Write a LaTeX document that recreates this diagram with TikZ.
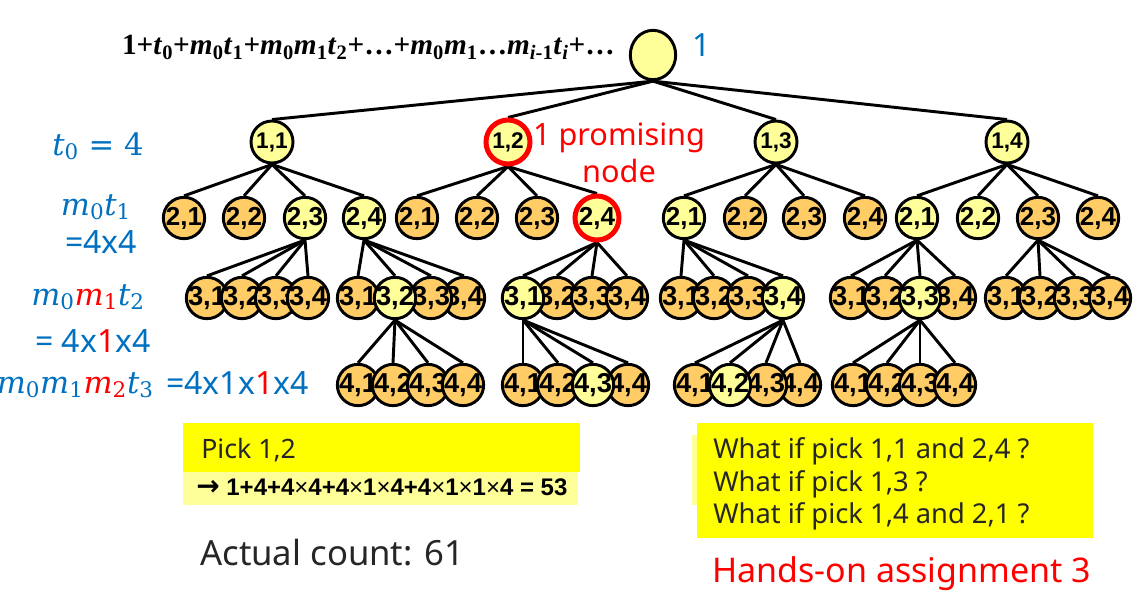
\documentclass[tikz,border=0pt]{standalone}
\usepackage{fontspec}
\setmainfont{Noto Sans}
\newfontfamily\nf{Liberation Sans}
\newfontfamily\frmfont{Liberation Serif}
\newfontfamily\arrfont{DejaVu Sans}
\newfontfamily\dvs{DejaVu Serif}
\usetikzlibrary{shapes.geometric,backgrounds}
\definecolor{nodey}{HTML}{FFFF99}
\definecolor{nodeo}{HTML}{FFCC66}
\definecolor{mblue}{HTML}{0070C0}
\definecolor{mred}{HTML}{FF0000}
\definecolor{boxy}{HTML}{FFFF00}
\definecolor{boxl}{HTML}{FFFF99}
\definecolor{txt}{HTML}{262626}
\newcommand\fv[2]{\textit{#1}\textsubscript{#2}}
\tikzset{
  base/.style={circle, draw=black, line width=2.2pt, inner sep=0pt, text=black,
    execute at begin node={\hbox to 0pt\bgroup\hss}, execute at end node={\hss\egroup}},
  lone/.style={base, minimum size=31.5pt, font=\nf\bfseries\fontsize{17}{17}\selectfont},
  ltwo/.style={base, minimum size=31pt, font=\nf\bfseries\fontsize{19.5}{19.5}\selectfont},
  lthree/.style={base, minimum size=31pt, font=\nf\bfseries\fontsize{20.5}{20.5}\selectfont},
  yf/.style={fill=nodey},
  of/.style={fill=nodeo},
  prom/.style={draw=mred, line width=3.75pt, minimum size=33pt},
  edge/.style={line width=2.2pt, black},
  bluelbl/.style={text=mblue, inner sep=0pt, font=\fontsize{24}{24}\selectfont},
  mathlbl/.style={text=mblue, inner sep=0pt, font=\dvs\fontsize{23}{23}\selectfont},
  plain/.style={inner sep=0pt}
}
\begin{document}
\begin{tikzpicture}[x=0.75pt,y=-0.75pt]
\useasboundingbox (0,0) rectangle (1139,592);
% root
\node[ellipse, draw=black, line width=2.2pt, fill=nodey, minimum width=34pt, minimum height=37pt, inner sep=0pt] (r) at (653,55) {};
% level 1
\node[lone,yf] (a1) at (272,142) {1,1};
\node[lone,yf,prom] (a2) at (508,142) {1,2};
\node[lone,yf] (a3) at (776,142) {1,3};
\node[lone,yf] (a4) at (1007,142) {1,4};
% level 2
\node[ltwo,of] (b11) at (184,218) {2,1};
\node[ltwo,of] (b12) at (244,218) {2,2};
\node[ltwo,yf] (b13) at (305,218) {2,3};
\node[ltwo,yf] (b14) at (364,218) {2,4};
\node[ltwo,of] (b21) at (417,218) {2,1};
\node[ltwo,of] (b22) at (477,218) {2,2};
\node[ltwo,of] (b23) at (537,218) {2,3};
\node[ltwo,yf,prom] (b24) at (597,218) {2,4};
\node[ltwo,yf] (b31) at (684,218) {2,1};
\node[ltwo,of] (b32) at (745,218) {2,2};
\node[ltwo,of] (b33) at (804,218) {2,3};
\node[ltwo,of] (b34) at (865,218) {2,4};
\node[ltwo,yf] (b41) at (917,218) {2,1};
\node[ltwo,yf] (b42) at (978,218) {2,2};
\node[ltwo,of] (b43) at (1038,218) {2,3};
\node[ltwo,of] (b44) at (1098,218) {2,4};
% level 3 group A (under b13)
\node[lthree,of] (A1) at (207,298) {3,1};
\node[lthree,of] (A2) at (242,298) {3,2};
\node[lthree,of] (A3) at (276,298) {3,3};
\node[lthree,of] (A4) at (308,298) {3,4};
% group B (under b14)
\node[lthree,of] (B4) at (464,298) {3,4};
\node[lthree,of] (B3) at (431,298) {3,3};
\node[lthree,of] (B1) at (358,298) {3,1};
\node[lthree,yf] (B2) at (395,298) {3,2};
% group C (under b24)
\node[lthree,of] (C2) at (557,298) {3,2};
\node[lthree,of] (C3) at (592,298) {3,3};
\node[lthree,of] (C4) at (627,298) {3,4};
\node[lthree,yf] (C1) at (523,298) {3,1};
% group D (under b31)
\node[lthree,of] (D1) at (681,298) {3,1};
\node[lthree,of] (D2) at (714,298) {3,2};
\node[lthree,of] (D3) at (748,298) {3,3};
\node[lthree,yf] (D4) at (783,298) {3,4};
% group E (under b41)
\node[lthree,of] (E1) at (851,298) {3,1};
\node[lthree,of] (E2) at (885,298) {3,2};
\node[lthree,of] (E4) at (955,298) {3,4};
\node[lthree,yf] (E3) at (920,298) {3,3};
% group F (under b43)
\node[lthree,of] (F1) at (1006,298) {3,1};
\node[lthree,of] (F2) at (1040,298) {3,2};
\node[lthree,of] (F3) at (1075,298) {3,3};
\node[lthree,of] (F4) at (1110,298) {3,4};
% level 4 group G (under B2)
\node[lthree,of] (G1) at (358,385) {4,1};
\node[lthree,of] (G2) at (393,385) {4,2};
\node[lthree,of] (G3) at (428,385) {4,3};
\node[lthree,of] (G4) at (463,385) {4,4};
% group H (under C1)
\node[lthree,of] (H1) at (523,385) {4,1};
\node[lthree,of] (H2) at (558,385) {4,2};
\node[lthree,of] (H4) at (628,385) {4,4};
\node[lthree,yf] (H3) at (593,385) {4,3};
% group I (under D4)
\node[lthree,of] (I4) at (800,385) {4,4};
\node[lthree,of] (I3) at (766,385) {4,3};
\node[lthree,of] (I1) at (695,385) {4,1};
\node[lthree,yf] (I2) at (730,385) {4,2};
% group J (under E3)
\node[lthree,of] (J1) at (853,385) {4,1};
\node[lthree,of] (J2) at (887,385) {4,2};
\node[lthree,of] (J3) at (920,385) {4,3};
\node[lthree,of] (J4) at (955,385) {4,4};
% edges
\begin{scope}[on background layer]
\foreach \c in {a1,a2,a3,a4} \draw[edge] (r.south) -- (\c.north);
\foreach \c in {b11,b12,b13,b14} \draw[edge] (a1.south) -- (\c.north);
\foreach \c in {b21,b22,b23,b24} \draw[edge] (a2.south) -- (\c.north);
\foreach \c in {b31,b32,b33,b34} \draw[edge] (a3.south) -- (\c.north);
\foreach \c in {b41,b42,b43,b44} \draw[edge] (a4.south) -- (\c.north);
\foreach \c in {A1,A2,A3,A4} \draw[edge] (b13.south) -- (\c.north);
\foreach \c in {B1,B2,B3,B4} \draw[edge] (b14.south) -- (\c.north);
\foreach \c in {C1,C2,C3,C4} \draw[edge] (b24.south) -- (\c.north);
\foreach \c in {D1,D2,D3,D4} \draw[edge] (b31.south) -- (\c.north);
\foreach \c in {E1,E2,E3,E4} \draw[edge] (b41.south) -- (\c.north);
\foreach \c in {F1,F2,F3,F4} \draw[edge] (b43.south) -- (\c.north);
\foreach \c in {G1,G2,G3,G4} \draw[edge] (B2.south) -- (\c.north);
\foreach \c in {H1,H2,H3,H4} \draw[edge] (C1.south) -- (\c.north);
\foreach \c in {I1,I2,I3,I4} \draw[edge] (D4.south) -- (\c.north);
\foreach \c in {J1,J2,J3,J4} \draw[edge] (E3.south) -- (\c.north);
\end{scope}
% top formula
\node[plain, anchor=base east, font=\frmfont\bfseries\fontsize{22}{22}\selectfont] (formula) at (615,55)
 {1+\fv{t}{0}+\fv{m}{0}\fv{t}{1}+\fv{m}{0}\fv{m}{1}\fv{t}{2}+…+\fv{m}{0}\fv{m}{1}…\fv{m}{\textit{i}-1}\fv{t}{\textit{i}}+…};
\node[plain, anchor=base west, text=mblue, font=\fontsize{24}{24}\selectfont] (one) at (692,57) {1};
% promising label
\node[plain, anchor=base, text=mred, font=\fontsize{23}{23}\selectfont] (prom1) at (619,145) {1 promising};
\node[plain, anchor=base, text=mred, font=\fontsize{23}{23}\selectfont] (prom2) at (619,182) {node};
% left labels
\node[mathlbl, anchor=base west] (t0) at (52,155) {\fv{t}{0} = 4};
\node[mathlbl, anchor=base] (m0t1) at (96,215) {\fv{m}{0}\fv{t}{1}};
\node[bluelbl, anchor=base] (eq1) at (101,253) {=4x4};
\node[mathlbl, anchor=base west] (m0m1t2) at (31,305) {\fv{m}{0}{\color{mred}\fv{m}{1}}\fv{t}{2}};
\node[bluelbl, anchor=base west] (eq2) at (35,352) {= 4x{\color{mred}1}x4};
\node[mathlbl, anchor=base east] (m0m1m2t3) at (154,393) {\fv{m}{0}\fv{m}{1}{\color{mred}\fv{m}{2}}\fv{t}{3}};
\node[bluelbl, anchor=base west] (eq3) at (166,394) {=4x1x{\color{mred}1}x4};
% left box
\fill[boxy] (183,423) rectangle (580,472);
\fill[boxl] (183,472) rectangle (578,505);
\node[plain, anchor=base west, text=txt, font=\fontsize{20}{20}\selectfont] (pick) at (201,458) {Pick 1,2};
\node[plain, anchor=base west, font=\nf\bfseries\fontsize{18}{18}\selectfont] (sum) at (196,495)
 {{\arrfont\bfseries\fontsize{21}{21}\selectfont →} 1+4+4{\mdseries×}4+4{\mdseries×}1{\mdseries×}4+4{\mdseries×}1{\mdseries×}1{\mdseries×}4 = 53};
\node[plain, anchor=base west, text=txt, font=\fontsize{26}{26}\selectfont] (actual) at (200,565) {Actual count: 61};
% right box
\fill[boxl] (692,435) rectangle (700,505);
\fill[boxy] (697,423) rectangle (1093,538);
\node[plain, anchor=base west, text=txt, font=\fontsize{20.5}{20.5}\selectfont] (q1) at (713,458) {What if pick 1,1 and 2,4 ?};
\node[plain, anchor=base west, text=txt, font=\fontsize{20.5}{20.5}\selectfont] (q2) at (713,491) {What if pick 1,3 ?};
\node[plain, anchor=base west, text=txt, font=\fontsize{20.5}{20.5}\selectfont] (q3) at (713,523) {What if pick 1,4 and 2,1 ?};
\node[plain, anchor=base west, text=mred, font=\fontsize{25.5}{25.5}\selectfont] (hands) at (712,582) {Hands-on assignment 3};
\end{tikzpicture}
\end{document}
